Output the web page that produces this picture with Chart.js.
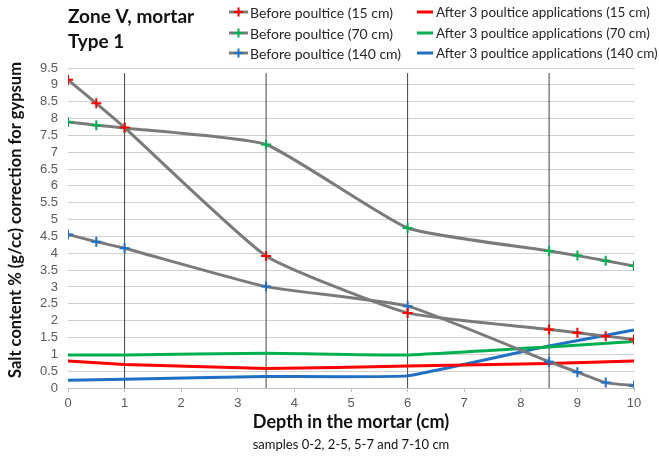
<!DOCTYPE html>
<html>
<head>
<meta charset="utf-8">
<script src="https://cdn.jsdelivr.net/npm/chart.js@4/dist/chart.umd.min.js"></script>
<style>
html,body{margin:0;padding:0;background:#fff;}
#wrap{position:relative;width:659px;height:457px;}
</style>
</head>
<body>
<div id="wrap"><canvas id="c" width="659" height="457"></canvas></div>
<script>
// ---- data ----
const depths = [0, 0.5, 1, 3.5, 6, 8.5, 9, 9.5, 10];
const before15 = [9.15, 8.45, 7.73, 3.92, 2.23, 1.74, 1.64, 1.54, 1.44];
const before70 = [7.90, 7.80, 7.72, 7.23, 4.75, 4.07, 3.93, 3.78, 3.62];
const before140 = [4.56, 4.34, 4.15, 3.01, 2.43, 0.78, 0.47, 0.16, 0.07];
const afterDepths = [0, 1, 3.5, 6, 8.5, 10];
const after15 = [0.80, 0.70, 0.58, 0.65, 0.73, 0.80];
const after70 = [0.98, 0.98, 1.03, 0.98, 1.22, 1.38];
const after140 = [0.23, 0.26, 0.34, 0.36, 1.25, 1.72];
const dividers = [1, 3.5, 6, 8.5];
const dividerTop = 9.35;
const seriesLabels = [
  'Before poultice (15 cm)', 'Before poultice (70 cm)', 'Before poultice (140 cm)',
  'After 3 poultice applications (15 cm)', 'After 3 poultice applications (70 cm)', 'After 3 poultice applications (140 cm)'
];
const titleLines = ['Zone V, mortar', 'Type 1'];
const xTitle = 'Depth in the mortar (cm)';
const xSubtitle = 'samples 0-2, 2-5, 5-7 and 7-10 cm';
const yTitle = 'Salt content % (g/cc) correction for gypsum';

const RED = '#ff0000', GREEN = '#00b050', BLUE = '#1f6fc5', GRAY = '#7a7a7a';

function pts(xs, ys) { return xs.map((x, i) => ({x: x, y: ys[i]})); }

function beforeDs(label, ys, color, row) {
  return {
    label, data: pts(depths, ys), borderColor: GRAY, borderWidth: 3,
    pointStyle: 'cross', pointRadius: 5, pointBorderColor: color, pointBorderWidth: 2,
    pointBackgroundColor: color, tension: 0.15, order: 1,
    legendCol: 0, legendRow: row, markerColor: color
  };
}
function afterDs(label, ys, color, row) {
  return {
    label, data: pts(afterDepths, ys), borderColor: color, borderWidth: 3,
    pointRadius: 0, tension: 0.1, order: 2,
    legendCol: 1, legendRow: row
  };
}

const datasets = [
  beforeDs(seriesLabels[0], before15, RED, 0),
  beforeDs(seriesLabels[1], before70, GREEN, 1),
  beforeDs(seriesLabels[2], before140, BLUE, 2),
  afterDs(seriesLabels[3], after15, RED, 0),
  afterDs(seriesLabels[4], after70, GREEN, 1),
  afterDs(seriesLabels[5], after140, BLUE, 2)
];
dividers.forEach(d => datasets.push({
  label: '', data: [{x: d, y: 0}, {x: d, y: dividerTop}], borderColor: '#404040',
  borderWidth: 1, pointRadius: 0, tension: 0, order: 5, divider: true
}));

const extras = {
  id: 'extras',
  afterDraw(chart) {
    const ctx = chart.ctx;
    const ca = chart.chartArea;
    ctx.save();
    // title
    ctx.fillStyle = '#111';
    ctx.font = 'bold 19px Lato';
    ctx.textBaseline = 'middle';
    ctx.textAlign = 'left';
    ctx.fillText(titleLines[0], 68, 17);
    ctx.fillText(titleLines[1], 68, 42);
    // legend
    const colX = [229, 417];
    const rowY = [12, 33, 53];
    chart.data.datasets.forEach(ds => {
      if (ds.divider) return;
      const x = colX[ds.legendCol], y = rowY[ds.legendRow];
      ctx.lineCap = 'butt';
      ctx.fillStyle = '#262626';
      if (ds.legendCol === 0) {
        ctx.strokeStyle = GRAY; ctx.lineWidth = 3;
        ctx.beginPath(); ctx.moveTo(x, y); ctx.lineTo(x + 19, y); ctx.stroke();
        ctx.strokeStyle = ds.markerColor; ctx.lineWidth = 2;
        ctx.beginPath(); ctx.moveTo(x + 5, y); ctx.lineTo(x + 14, y);
        ctx.moveTo(x + 9.5, y - 4.5); ctx.lineTo(x + 9.5, y + 4.5); ctx.stroke();
        ctx.font = '14px Lato';
        ctx.fillText(ds.label, x + 21, y + 1);
      } else {
        ctx.strokeStyle = ds.borderColor; ctx.lineWidth = 3;
        ctx.beginPath(); ctx.moveTo(x, y); ctx.lineTo(x + 16, y); ctx.stroke();
        ctx.font = '13.5px Lato';
        ctx.fillText(ds.label, x + 19, y + 1);
      }
    });
    // y title
    ctx.save();
    ctx.translate(16, 220);
    ctx.rotate(-Math.PI / 2);
    ctx.textAlign = 'center';
    ctx.font = 'bold 16.5px Lato';
    ctx.fillStyle = '#111';
    ctx.fillText(yTitle, 0, 0);
    ctx.restore();
    // x subtitle
    ctx.font = '13px Lato';
    ctx.textAlign = 'center';
    ctx.fillStyle = '#111';
    ctx.fillText(xSubtitle, (ca.left + ca.right) / 2, 445);
    ctx.restore();
  }
};

new Chart(document.getElementById('c'), {
  type: 'line',
  data: { datasets },
  options: {
    responsive: false,
    animation: false,
    layout: { padding: { top: 68, right: 25, left: 0, bottom: 0 } },
    plugins: { legend: { display: false }, tooltip: { enabled: false } },
    scales: {
      x: {
        type: 'linear', min: 0, max: 10,
        ticks: { stepSize: 1, color: '#595959', font: { family: 'Liberation Sans', size: 13 }, padding: 4 },
        grid: { drawOnChartArea: false, drawTicks: true, tickLength: 4, color: '#bfbfbf' },
        border: { display: true, color: '#bfbfbf' },
        title: { display: true, text: xTitle, color: '#111', font: { family: 'Lato', size: 18, weight: 'bold' }, padding: { top: 0, bottom: 24 } },
        afterFit(s) { s.height = 69; }
      },
      y: {
        min: 0, max: 9.5,
        ticks: { stepSize: 0.5, autoSkip: false, color: '#595959', font: { family: 'Liberation Sans', size: 13 }, padding: 10,
                 callback: v => String(Math.round(v * 10) / 10) },
        grid: { color: '#d0d0d0', drawTicks: false },
        border: { display: false },
        afterFit(s) { s.width = 68; }
      }
    }
  },
  plugins: [extras]
});
</script>
</body>
</html>
